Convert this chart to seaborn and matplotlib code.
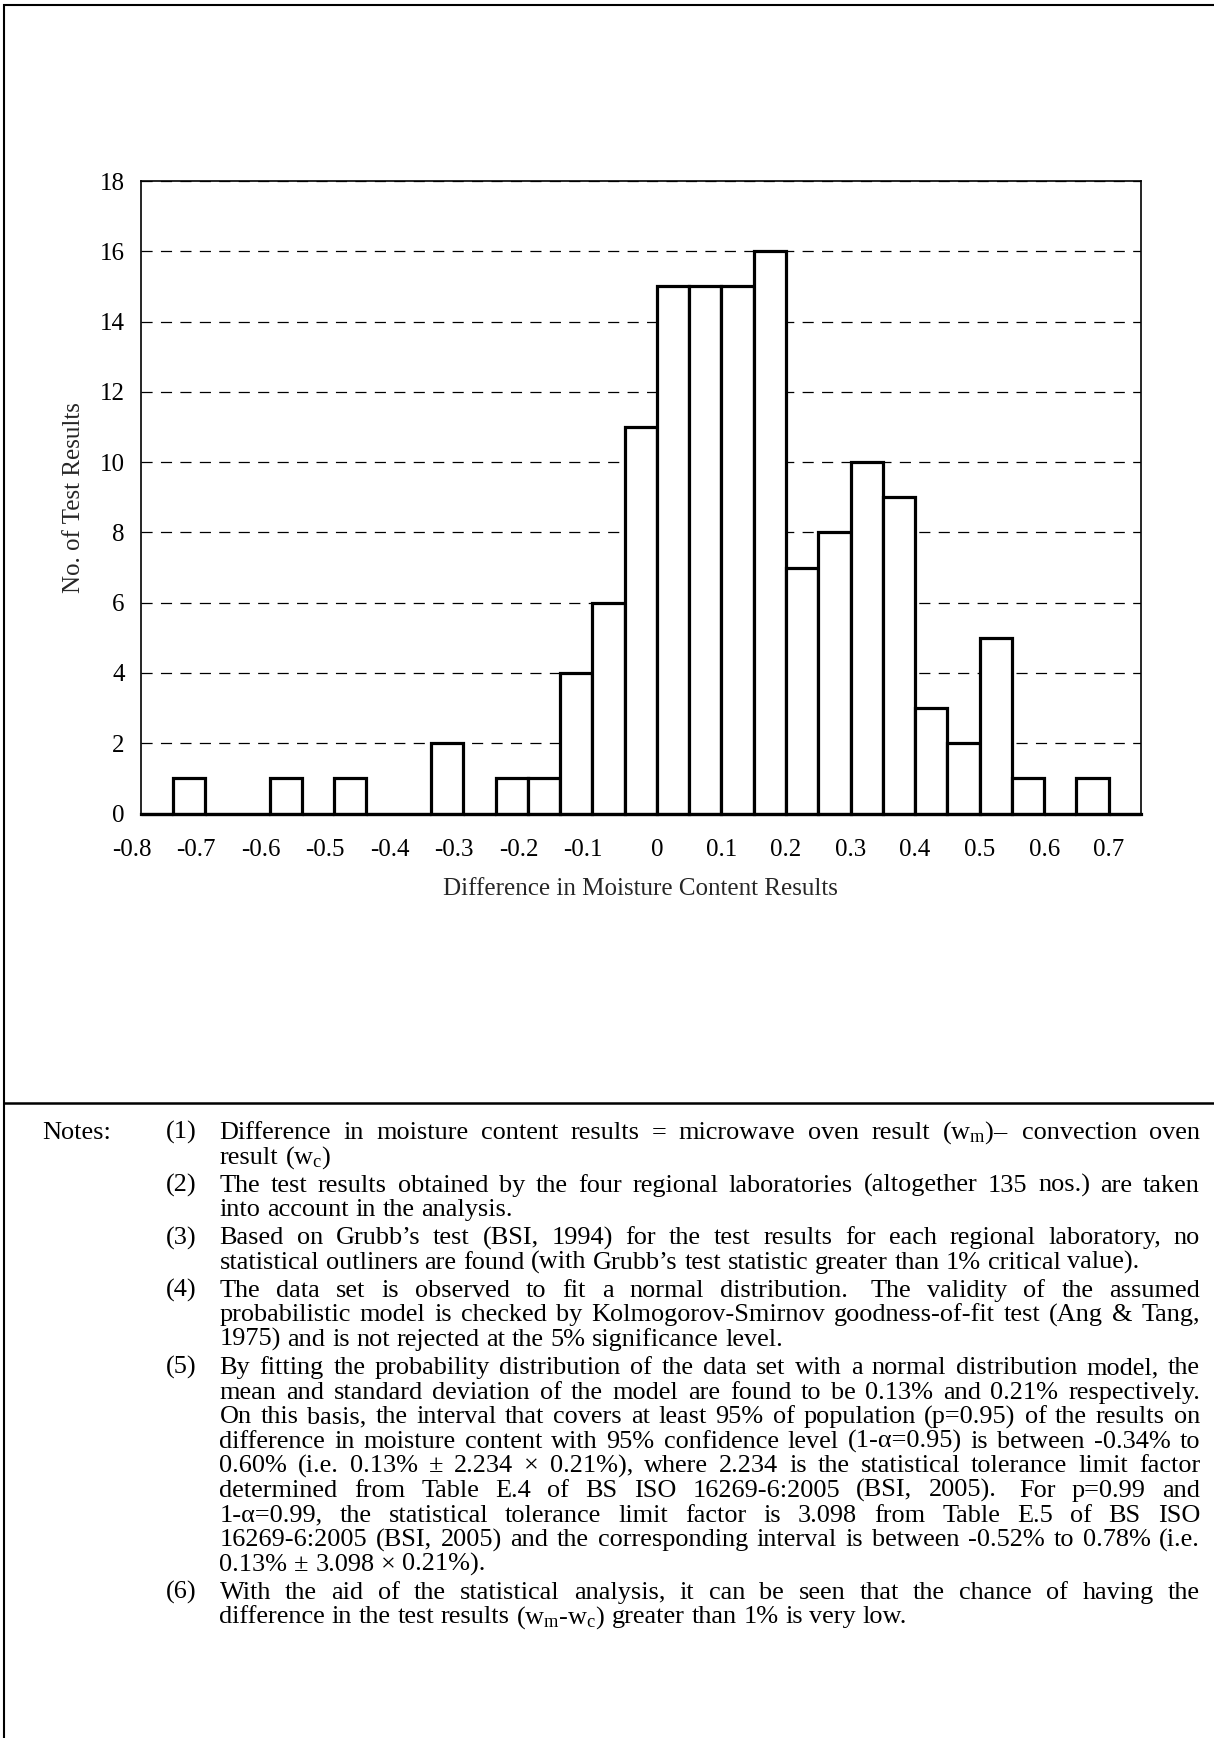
import re
import numpy as np
import matplotlib
matplotlib.use("Agg")
import matplotlib.pyplot as plt
from matplotlib.lines import Line2D
from matplotlib.transforms import ScaledTranslation
import seaborn as sns

# ---------------- data ----------------
bin_edges = [-0.80, -0.75, -0.70, -0.65, -0.60, -0.55, -0.50, -0.45, -0.40, -0.35,
             -0.30, -0.25, -0.20, -0.15, -0.10, -0.05, 0.00, 0.05, 0.10, 0.15,
             0.20, 0.25, 0.30, 0.35, 0.40, 0.45, 0.50, 0.55, 0.60, 0.65, 0.70, 0.75]
counts = [0, 1, 0, 0, 1, 0, 1, 0, 0, 2, 0, 1, 1, 4, 6, 11, 15, 15, 15, 16,
          7, 8, 10, 9, 3, 2, 5, 1, 0, 1, 0]
x_ticks = [-0.8, -0.7, -0.6, -0.5, -0.4, -0.3, -0.2, -0.1, 0.0, 0.1, 0.2, 0.3, 0.4, 0.5, 0.6, 0.7]
x_tick_labels = ["-0.8", "-0.7", "-0.6", "-0.5", "-0.4", "-0.3", "-0.2", "-0.1",
                 "0", "0.1", "0.2", "0.3", "0.4", "0.5", "0.6", "0.7"]
y_ticks = [0, 2, 4, 6, 8, 10, 12, 14, 16, 18]
y_tick_labels = ["0", "2", "4", "6", "8", "10", "12", "14", "16", "18"]
x_label = "Difference in Moisture Content Results"
y_label = "No. of Test Results"

notes_header = "Notes:"
notes = [
    ("(1)", [r"Difference in moisture content results = microwave oven result ($\mathrm{w}_\mathrm{m}$)– convection oven",
             r"result ($\mathrm{w}_\mathrm{c}$)"]),
    ("(2)", ["The test results obtained by the four regional laboratories (altogether 135 nos.) are taken",
             "into account in the analysis."]),
    ("(3)", ["Based on Grubb’s test (BSI, 1994) for the test results for each regional laboratory, no",
             "statistical outliners are found (with Grubb’s test statistic greater than 1% critical value)."]),
    ("(4)", ["The data set is observed to fit a normal distribution.  The validity of the assumed",
             "probabilistic model is checked by Kolmogorov-Smirnov goodness-of-fit test (Ang & Tang,",
             "1975) and is not rejected at the 5% significance level."]),
    ("(5)", ["By fitting the probability distribution of the data set with a normal distribution model, the",
             "mean and standard deviation of the model are found to be 0.13% and 0.21% respectively.",
             "On this basis, the interval that covers at least 95% of population (p=0.95) of the results on",
             "difference in moisture content with 95% confidence level (1-α=0.95) is between -0.34% to",
             "0.60% (i.e. 0.13% ± 2.234 × 0.21%), where 2.234 is the statistical tolerance limit factor",
             "determined from Table E.4 of BS ISO 16269-6:2005 (BSI, 2005).  For p=0.99 and",
             "1-α=0.99, the statistical tolerance limit factor is 3.098 from Table E.5 of BS ISO",
             "16269-6:2005 (BSI, 2005) and the corresponding interval is between -0.52% to 0.78% (i.e.",
             "0.13% ± 3.098 × 0.21%)."]),
    ("(6)", ["With the aid of the statistical analysis, it can be seen that the chance of having the",
             r"difference in the test results ($\mathrm{w}_\mathrm{m}$-$\mathrm{w}_\mathrm{c}$) greater than 1% is very low."]),
]

# ---------------- style ----------------
sns.set_style("white")
SERIF = ["Liberation Serif", "DejaVu Serif"]
plt.rcParams["font.family"] = SERIF
plt.rcParams["axes.unicode_minus"] = False
plt.rcParams["mathtext.fontset"] = "custom"
plt.rcParams["mathtext.rm"] = "Liberation Serif"
plt.rcParams["mathtext.it"] = "Liberation Serif:italic"
plt.rcParams["mathtext.bf"] = "Liberation Serif:bold"
plt.rcParams["text.color"] = "black"
plt.rcParams["axes.edgecolor"] = "black"
plt.rcParams["lines.scale_dashes"] = False

W, H, DPI = 1214, 1738, 100
fig = plt.figure(figsize=(W / DPI, H / DPI), dpi=DPI)
fig.patch.set_facecolor("white")

# axes placement in pixels
AX_L, AX_R, AX_T, AX_B = 140.5, 1141.0, 181.0, 813.5
ax = fig.add_axes([AX_L / W, 1 - AX_B / H, (AX_R - AX_L) / W, (AX_B - AX_T) / H])

bin_centers = [(a + b) / 2 for a, b in zip(bin_edges[:-1], bin_edges[1:])]
sns.histplot(x=bin_centers, weights=counts, bins=bin_edges, ax=ax, stat="count",
             element="bars", fill=True, color="white", edgecolor="black",
             linewidth=2.3, alpha=1.0, legend=False)
for p in ax.patches:
    p.set_facecolor("white")
    p.set_edgecolor("black")
    p.set_clip_on(False)
    p.set_zorder(2)

ax.set_xlim(bin_edges[0], bin_edges[-1])
ax.set_ylim(0, 18)
ax.set_xticks(x_ticks, labels=x_tick_labels)
ax.set_yticks(y_ticks, labels=y_tick_labels)
ax.tick_params(axis="both", length=0, labelsize=18, colors="black")
ax.tick_params(axis="y", pad=11.5)
ax.tick_params(axis="x", pad=18.5)

ax.set_axisbelow(True)
ax.grid(axis="y", color="black", linewidth=0.9, linestyle=(0, (8.0, 6.0)))
ax.grid(axis="x", visible=False)

for side in ["left", "right", "top"]:
    ax.spines[side].set_visible(True)
    ax.spines[side].set_color("black")
    ax.spines[side].set_linewidth(1.2)
ax.spines["bottom"].set_color("black")
ax.spines["bottom"].set_linewidth(2.3)
ax.spines["bottom"].set_zorder(3)

ax.set_xlabel(x_label, fontsize=18, va="center")
ax.set_ylabel(y_label, fontsize=18, va="center")
ax.xaxis.set_label_coords(0.5, (AX_B - 889) / (AX_B - AX_T))
ax.yaxis.set_label_coords((74.5 - AX_L) / (AX_R - AX_L), 0.5)

# negative labels sit slightly left of their tick, as in the source chart
shift = ScaledTranslation(-9 / DPI, 0, fig.dpi_scale_trans)
for tick, lab in zip(ax.xaxis.get_major_ticks(), x_tick_labels):
    if lab.startswith("-"):
        tick.label1.set_transform(tick.label1.get_transform() + shift)

# ---------------- frame lines ----------------
def px_line(x0, y0, x1, y1, lw):
    fig.add_artist(Line2D([x0 / W, x1 / W], [1 - y0 / H, 1 - y1 / H],
                          transform=fig.transFigure, color="black", linewidth=lw,
                          solid_capstyle="butt"))

px_line(2.5, 5, W, 5, 1.5)        # top
px_line(3.5, 4.3, 3.5, H, 1.5)    # left
px_line(2.5, 1103, W, 1103, 1.8)  # separator

# ---------------- notes (justified) ----------------
NOTE_FS = 18.9
X_NOTES, X_NUM, X0, X1 = 42, 166, 219.5, 1200
BASE0, LINE_H, PARA_GAP = 1139, 24.6, 3.4

fig.canvas.draw()
renderer = fig.canvas.get_renderer()

def measure(s):
    t = fig.text(0, 0, s, fontsize=NOTE_FS, family=SERIF)
    w = t.get_window_extent(renderer=renderer).width
    t.remove()
    return w

space_w = measure("x x") - measure("xx")

def put(x_px, y_px, s):
    fig.text(x_px / W, 1 - y_px / H, s, fontsize=NOTE_FS, family=SERIF,
             ha="left", va="baseline", color="black")

def place_line(line, y_px, justify):
    parts = re.split(r"( +)", line)
    words = parts[0::2]
    gaps = parts[1::2]
    widths = [measure(w) for w in words]
    gap_w = [len(g) * space_w for g in gaps]
    natural = sum(widths) + sum(gap_w)
    extra = (X1 - X0 - natural) / len(gaps) if (justify and gaps) else 0.0
    x = X0
    for i, w in enumerate(words):
        put(x, y_px, w)
        x += widths[i]
        if i < len(gaps):
            x += gap_w[i] + extra

line_idx = 0
put(X_NOTES, BASE0, notes_header)
for p_idx, (num, lines) in enumerate(notes):
    for j, line in enumerate(lines):
        y = BASE0 + LINE_H * line_idx + PARA_GAP * p_idx
        if j == 0:
            put(X_NUM, y, num)
        place_line(line, y, justify=(j < len(lines) - 1))
        line_idx += 1

fig.savefig("out.png", dpi=DPI, facecolor="white")
